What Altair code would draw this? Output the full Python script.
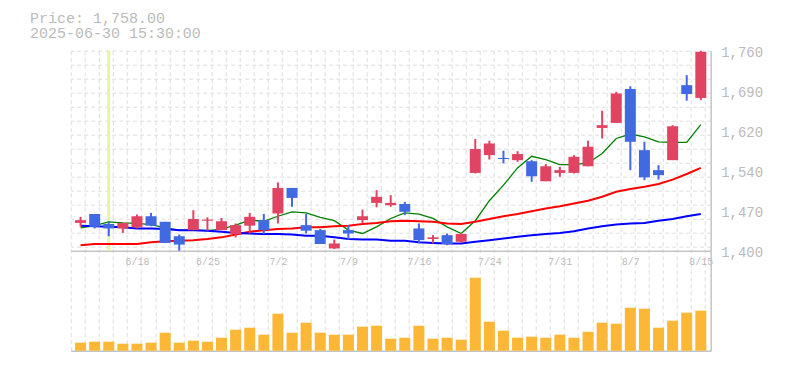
import altair as alt
import pandas as pd

# ---------------- data ----------------
dates = ["6/12", "6/13", "6/16", "6/17", "6/18", "6/19", "6/20", "6/23", "6/24", "6/25",
         "6/26", "6/27", "6/30", "7/1", "7/2", "7/3", "7/4", "7/7", "7/8", "7/9",
         "7/10", "7/11", "7/14", "7/15", "7/16", "7/17", "7/18", "7/22", "7/23", "7/24",
         "7/25", "7/28", "7/29", "7/30", "7/31", "8/1", "8/4", "8/5", "8/6", "8/7",
         "8/8", "8/12", "8/13", "8/14", "8/15"]
opens = [1450, 1466, 1448, 1440, 1442, 1462, 1452, 1426, 1437, 1454,
         1437, 1430, 1445, 1455, 1467, 1513, 1446, 1437, 1404, 1437,
         1455, 1486, 1482, 1484, 1440, 1421, 1428, 1416, 1540, 1572,
         1567, 1563, 1561, 1525, 1540, 1540, 1552, 1621, 1630, 1691,
         1581, 1545, 1563, 1698, 1675]
highs = [1461, 1466, 1452, 1450, 1465, 1468, 1452, 1429, 1473, 1460,
         1459, 1449, 1468, 1466, 1523, 1513, 1466, 1439, 1420, 1446,
         1474, 1509, 1500, 1488, 1449, 1428, 1431, 1432, 1601, 1598,
         1580, 1579, 1563, 1556, 1551, 1572, 1598, 1652, 1686, 1696,
         1596, 1554, 1626, 1716, 1760]
lows = [1443, 1440, 1426, 1432, 1440, 1444, 1414, 1400, 1437, 1436,
        1437, 1424, 1431, 1430, 1449, 1479, 1431, 1412, 1403, 1420,
        1449, 1478, 1479, 1464, 1413, 1413, 1410, 1414, 1539, 1564,
        1557, 1560, 1524, 1525, 1533, 1539, 1552, 1602, 1630, 1545,
        1527, 1528, 1563, 1670, 1671]
closes = [1455, 1443, 1440, 1450, 1462, 1445, 1414, 1411, 1457, 1456,
          1453, 1446, 1461, 1437, 1513, 1495, 1436, 1412, 1413, 1431,
          1462, 1497, 1486, 1470, 1419, 1424, 1412, 1430, 1583, 1593,
          1565, 1574, 1534, 1552, 1545, 1569, 1587, 1626, 1683, 1596,
          1532, 1536, 1624, 1682, 1758]
volumes = [8000, 9000, 9000, 7000, 7000, 8000, 18000, 8000, 10000, 9000,
           13000, 21000, 23000, 16000, 37000, 18000, 28000, 18000, 16000, 16000,
           24000, 25000, 12000, 13000, 25000, 12000, 13000, 11000, 73000, 29000,
           20000, 13000, 14000, 13000, 16000, 13000, 19000, 28000, 27000, 43000,
           42000, 23000, 30000, 38000, 40000]
ma5 = [1441, 1445, 1452, 1450, 1449, 1447, 1441, 1437, 1437, 1436,
       1439, 1446, 1455, 1453, 1462, 1470, 1468, 1460, 1454, 1437,
       1431, 1443, 1458, 1468, 1466, 1458, 1443, 1431, 1454, 1490,
       1518, 1549, 1570, 1564, 1555, 1555, 1558, 1575, 1602, 1610,
       1605, 1596, 1595, 1595, 1627]
ma25 = [1410, 1412, 1412, 1412, 1412, 1415, 1417, 1418, 1419, 1421,
        1424, 1429, 1434, 1437, 1439, 1440, 1442, 1442, 1444, 1445,
        1448, 1450, 1453, 1454, 1453, 1452, 1449, 1448, 1452, 1457,
        1462, 1466, 1471, 1476, 1480, 1485, 1490, 1497, 1506, 1511,
        1515, 1520, 1528, 1538, 1549]
ma75 = [1445, 1444, 1443, 1442, 1440, 1440, 1439, 1437, 1437, 1436,
        1434, 1432, 1431, 1430, 1430, 1429, 1427, 1427, 1424, 1421,
        1420, 1420, 1418, 1418, 1415, 1414, 1413, 1413, 1416, 1419,
        1422, 1425, 1428, 1430, 1432, 1435, 1440, 1444, 1447, 1449,
        1450, 1454, 1457, 1462, 1466]
label_idx = [4, 9, 14, 19, 24, 29, 34, 39, 44]
price_ticks = [1400, 1472, 1544, 1616, 1688, 1760]
price_grid = [1760, 1734.8, 1709.6, 1684.4, 1659.2, 1634, 1608.8, 1583.6,
              1558.4, 1533.2, 1508, 1482.8, 1457.6, 1432.4, 1407.2]
x_grid = [-0.7, 0.3, 1.3, 2.3, 3.3, 4.3, 5.3, 6.3, 7.3, 8.3, 9.3, 10.3, 11.3, 12.3,
          13.3, 14.3, 15.3, 16.3, 17.3, 18.3, 19.3, 20.3, 21.3, 22.3, 23.3, 24.3,
          25.3, 26.3, 27.3, 28.3, 29.3, 30.3, 31.3, 32.3, 33.3, 34.3, 35.3, 36.3,
          37.3, 38.3, 39.3, 40.3, 41.3, 42.3, 43.3, 44.3]
highlight_idx = 2
title_lines = ["Price: 1,758.00", "2025-06-30 15:30:00"]

# ---------------- tables ----------------
n = len(dates)
df = pd.DataFrame({"i": list(range(n)), "date": dates, "open": opens, "high": highs,
                   "low": lows, "close": closes, "volume": volumes})
df["dir"] = ["up" if c >= o else "down" for o, c in zip(opens, closes)]
ma_tables = [
    (pd.DataFrame({"i": list(range(n)), "value": ma5}), "#008000", 1.3),
    (pd.DataFrame({"i": list(range(n)), "value": ma25}), "#ff0000", 2),
    (pd.DataFrame({"i": list(range(n)), "value": ma75}), "#0000ff", 2),
]

FONT = "Liberation Mono"
LABEL = "#bbbbbb"
GRID = "#dddddd"
AXIS = "#c4c4c4"

xscale = alt.Scale(domain=[-0.7, 44.7], nice=False, zero=False, padding=0)
pscale = alt.Scale(domain=[1400, 1760], range=[200, 0], nice=False, zero=False, padding=0)
vscale = alt.Scale(domain=[0, 100000], range=[300, 200], nice=False, padding=0)
cscale = alt.Scale(domain=["up", "down"], range=["#e04462", "#4169e1"])

date_expr = "[" + ",".join("'%s'" % d for d in dates) + "][datum.value]"

# highlight (crosshair) layer that also carries the price-panel grid axes
hl = alt.Chart(pd.DataFrame({"i": [highlight_idx], "lo": [1400], "hi": [1760]})).mark_rule(
    color="#e6f5a6", strokeWidth=3
).encode(
    x=alt.X("i:Q", scale=xscale, axis=alt.Axis(
        orient="bottom", values=x_grid, grid=True, gridColor=GRID, gridDash=[4, 3],
        labels=False, ticks=False, domain=False, title=None)),
    y=alt.Y("lo:Q", scale=pscale, axis=alt.Axis(
        orient="right", values=price_grid, grid=True, gridColor=GRID, gridDash=[4, 3],
        labels=False, ticks=False, domain=False, title=None)),
    y2="hi:Q",
)

ma_layers = [
    alt.Chart(t).mark_line(color=c, strokeWidth=w).encode(
        x=alt.X("i:Q", scale=xscale, axis=None),
        y=alt.Y("value:Q", scale=pscale, axis=None),
    )
    for t, c, w in ma_tables
]

wick = alt.Chart(df).mark_rule(strokeWidth=2).encode(
    x=alt.X("i:Q", scale=xscale, axis=alt.Axis(
        orient="bottom", offset=-100, values=label_idx, labelExpr=date_expr,
        grid=False, ticks=False, domain=True, domainColor=AXIS, domainWidth=1.5,
        labelFont=FONT, labelFontSize=10, labelColor=LABEL, labelPadding=6,
        labelFlush=False, title=None)),
    y=alt.Y("low:Q", scale=pscale, axis=alt.Axis(
        orient="right", values=price_ticks,
        labelExpr="format(round(datum.value / 10) * 10, ',')",
        grid=False, ticks=False, domain=True, domainColor=AXIS, domainWidth=1.5,
        labelFont=FONT, labelFontSize=14, labelColor=LABEL, labelPadding=10,
        labelOffset=2, labelFlush=False, title=None)),
    y2="high:Q",
    color=alt.Color("dir:N", scale=cscale, legend=None),
)

body = alt.Chart(df).mark_bar(size=11).encode(
    x=alt.X("i:Q", scale=xscale, axis=None),
    y=alt.Y("open:Q", scale=pscale, axis=None),
    y2="close:Q",
    color=alt.Color("dir:N", scale=cscale, legend=None),
)

price = alt.layer(hl, *ma_layers, wick, body).resolve_axis(x="independent", y="independent")

vol = alt.Chart(df).mark_bar(size=11, color="#fbb735").encode(
    x=alt.X("i:Q", scale=xscale, axis=alt.Axis(
        orient="bottom", values=x_grid, grid=True, gridColor=GRID, gridDash=[4, 3],
        labels=False, ticks=False, domain=True, domainColor=AXIS, domainWidth=1.5,
        title=None)),
    y=alt.Y("volume:Q", scale=vscale, axis=alt.Axis(
        orient="right", labels=False, ticks=False, grid=False, domain=True,
        domainColor=AXIS, domainWidth=1.5, title=None)),
)

# header text (two lines, upper left)
head1 = alt.Chart(pd.DataFrame({"t": [title_lines[0]]})).mark_text(
    font=FONT, fontSize=15, color=LABEL, align="left", baseline="alphabetic"
).encode(text="t:N", x=alt.value(-40.7), y=alt.value(-27.8))
head2 = alt.Chart(pd.DataFrame({"t": [title_lines[1]]})).mark_text(
    font=FONT, fontSize=15, color=LABEL, align="left", baseline="alphabetic"
).encode(text="t:N", x=alt.value(-40.7), y=alt.value(-13.0))

chart = alt.layer(price, vol, head1, head2).resolve_scale(y="independent").resolve_axis(
    x="independent", y="independent"
).properties(
    width=640, height=300,
    autosize=alt.AutoSizeParams(type="none"),
    padding={"left": 62.7, "top": 42.7, "right": 60, "bottom": 10},
).configure_view(stroke=None)

chart.save("out.html", embed_options={"renderer": "svg", "actions": False})
